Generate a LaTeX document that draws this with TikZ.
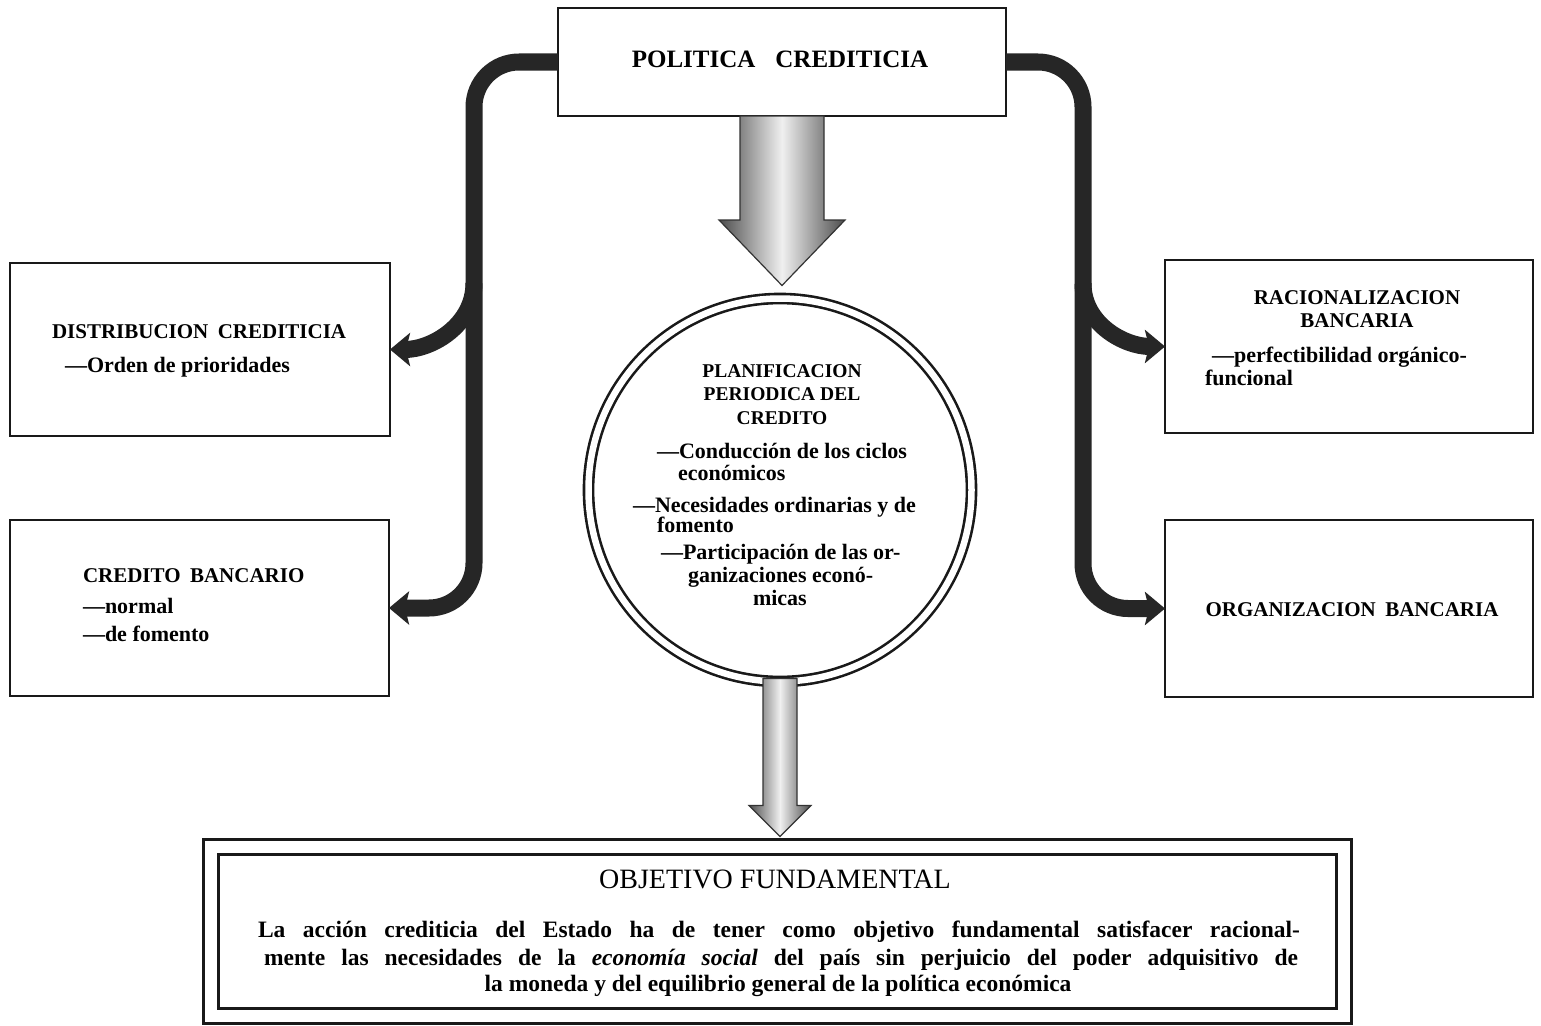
\documentclass[tikz,border=0pt]{standalone}
\usepackage{fontspec}
\setmainfont{Liberation Serif}
\usetikzlibrary{arrows.meta,calc}
\begin{document}
\begin{tikzpicture}[x=1pt,y=-1pt,
  box/.style={draw=black!90, line width=2.8pt, inner sep=0pt, outer sep=0pt},
  lbl/.style={inner sep=0pt, outer sep=0pt, font=\bfseries\fontsize{22}{25}\selectfont},
  capl/.style={lbl, font=\bfseries\fontsize{21}{24}\selectfont},
  ccap/.style={lbl, font=\bfseries\fontsize{19.5}{22}\selectfont},
  ctxt/.style={lbl, font=\bfseries\fontsize{22}{25}\selectfont},
  body/.style={inner sep=0pt, outer sep=0pt, font=\bfseries\fontsize{23.5}{26}\selectfont},
  bar/.style={draw=black!85, line width=17pt, line cap=butt,
    -{Stealth[length=20pt,width=33pt,inset=4pt]}},
  fat/.style={draw=black!80, line width=1.2pt, line join=miter,
    left color=black!70, right color=black!70, middle color=gray!12}
]
\useasboundingbox (0,0) rectangle (1541,1025);
\fill[white] (0,0) rectangle (1541,1025);

% ---- boxes
\node[box, minimum width=448pt, minimum height=108pt] (top) at (782,62) {};
\node[box, minimum width=380pt, minimum height=173pt] (db) at (200,349.5) {};
\node[box, minimum width=379pt, minimum height=176pt] (cb) at (199.5,608) {};
\node[box, minimum width=368pt, minimum height=173pt] (rb) at (1349,346.5) {};
\node[box, minimum width=368pt, minimum height=177pt] (ob) at (1349,608.5) {};
\node[circle, draw=black!90, line width=2.6pt, double, double distance=6.5pt,
      inner sep=0pt, outer sep=0pt, minimum size=383pt] (circ) at (780,490) {};
\node[draw=black!90, line width=3pt, double, double distance=12pt,
      inner sep=0pt, outer sep=0pt, minimum width=1133pt, minimum height=169pt] (obj) at (777,931) {};

% ---- texts
\node[lbl, font=\bfseries\fontsize{25}{28}\selectfont, anchor=base] (topt) at (780,67) {POLITICA\hspace{0.8em}CREDITICIA};

\node[capl, anchor=base west] (dbt) at (52,338) {DISTRIBUCION\hspace{0.45em}CREDITICIA};
\node[lbl, anchor=base west] (db1) at (65,372) {—Orden de prioridades};

\node[capl, anchor=base west] (cbt) at (83,582) {CREDITO\hspace{0.45em}BANCARIO};
\node[lbl, anchor=base west] (cb1) at (83,613) {—normal};
\node[lbl, anchor=base west] (cb2) at (83,641) {—de fomento};

\node[capl, anchor=base] (rbt1) at (1357,304) {RACIONALIZACION};
\node[capl, anchor=base] (rbt2) at (1357,327) {BANCARIA};
\node[lbl, anchor=base west] (rb1) at (1212,362) {—perfectibilidad orgánico-};
\node[lbl, anchor=base west] (rb2) at (1205,385) {funcional};

\node[capl, anchor=base] (obt) at (1352,616) {ORGANIZACION\hspace{0.45em}BANCARIA};

\node[ccap, anchor=base] (c1) at (782,377) {PLANIFICACION};
\node[ccap, anchor=base] (c2) at (782,400) {PERIODICA DEL};
\node[ccap, anchor=base] (c3) at (782,424) {CREDITO};
\node[ctxt, anchor=base west] (c4) at (657,458) {—Conducción de los ciclos};
\node[ctxt, anchor=base west] (c5) at (678,480) {económicos};
\node[ctxt, anchor=base west] (c6) at (633,512) {—Necesidades ordinarias y de};
\node[ctxt, anchor=base west] (c7) at (657,532) {fomento};
\node[ctxt, anchor=base west] (c8) at (661,559) {—Participación de las or-};
\node[ctxt, anchor=base west] (c9) at (688,582) {ganizaciones econó-};
\node[ctxt, anchor=base west] (c10) at (753,605) {micas};

\node[inner sep=0pt, font=\fontsize{28}{31}\selectfont, anchor=base] (objt) at (775,888) {OBJETIVO FUNDAMENTAL};
\node[body, anchor=base west] (o1) at (258,937) {\makebox[1042pt][s]{La acción crediticia del Estado ha de tener como objetivo fundamental satisfacer racional-}};
\node[body, anchor=base west] (o2) at (264,965) {\makebox[1034pt][s]{mente las necesidades de la \textit{economía social} del país sin perjuicio del poder adquisitivo de}};
\node[body, anchor=base] (o3) at (778,991) {la moneda y del equilibrio general de la política económica};

% ---- connectors
\coordinate (lj) at ($(cb.east)+(85,-325)$);
\coordinate (rj) at ($(ob.west)+(-82,-325)$);
\draw[bar, rounded corners=45pt] (top.west) -| ($(cb.east)+(85,0)$) -- (cb.east);
\draw[bar, rounded corners=45pt] (top.east) -| ($(ob.west)+(-82,0)$) -- (ob.west);
\draw[bar] (lj) to[out=-90, in=0] (db.east);
\draw[bar] (rj) to[out=-90, in=180] (rb.west);

% ---- fat arrows
\path[fat] ($(top.south)+(-42,0)$) -- ($(top.south)+(42,0)$) -- ($(top.south)+(42,104)$)
  -- ($(top.south)+(63,104)$) -- ($(circ.north)+(2,-13)$) -- ($(top.south)+(-63,104)$)
  -- ($(top.south)+(-42,104)$) -- cycle;
\path[fat] ($(circ.south)+(-17,-3)$) -- ($(circ.south)+(17,-3)$) -- ($(circ.south)+(17,124)$)
  -- ($(circ.south)+(31,124)$) -- ($(circ.south |- obj.north)+(0,-10)$) -- ($(circ.south)+(-31,124)$)
  -- ($(circ.south)+(-17,124)$) -- cycle;
\end{tikzpicture}
\end{document}
